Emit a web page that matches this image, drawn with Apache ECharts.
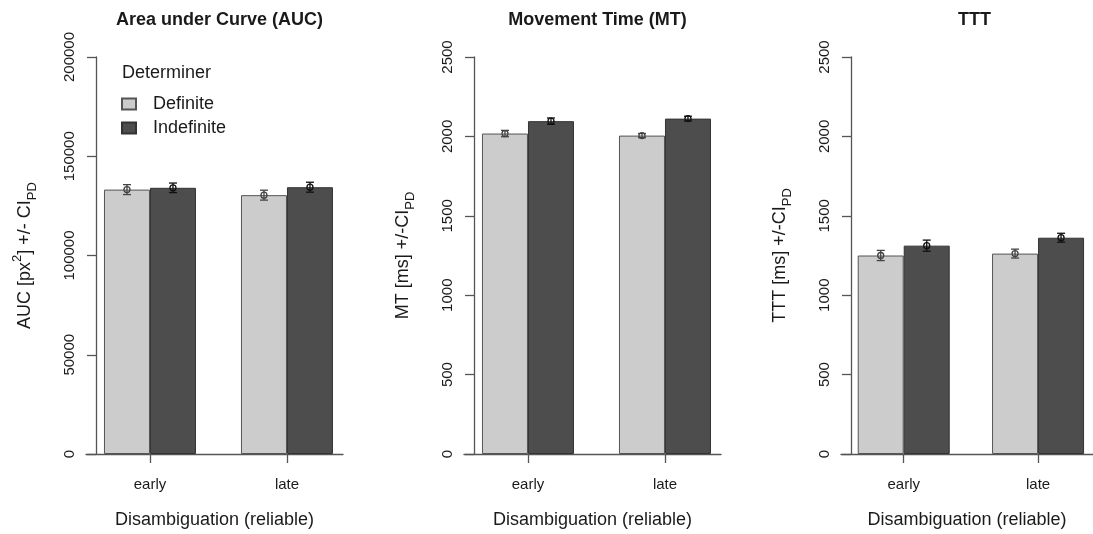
<!DOCTYPE html>
<html><head><meta charset="utf-8">
<script src="https://cdn.jsdelivr.net/npm/echarts@6/dist/echarts.min.js"></script>
<style>html,body{margin:0;padding:0;background:#fff}#c{width:1093px;height:534px}</style>
</head><body><div id="c"></div>
<script>
// ---- data ----
const categories = ['early', 'late'];
const groups = ['Definite', 'Indefinite'];
const legendTitle = 'Determiner';
const panelTitles = ['Area under Curve (AUC)', 'Movement Time (MT)', 'TTT'];
const xTitle = 'Disambiguation (reliable)';

const aucDefinite = [133200, 130400];
const aucIndefinite = [134100, 134400];
const aucDefiniteCI = [2500, 2500];
const aucIndefiniteCI = [2400, 2500];

const mtDefinite = [2018, 2005];
const mtIndefinite = [2096, 2112];
const mtDefiniteCI = [20, 13];
const mtIndefiniteCI = [20, 15];

const tttDefinite = [1250, 1262];
const tttIndefinite = [1312, 1362];
const tttDefiniteCI = [32, 28];
const tttIndefiniteCI = [35, 28];

const aucTicks = { min: 0, max: 200000, interval: 50000 };
const msTicks = { min: 0, max: 2500, interval: 500 };

// ---- styling ----
const FONT = 'Liberation Sans, Arial, sans-serif';
const BAR_W = 46;
const COL_DEF = '#cccccc', COL_IND = '#4d4d4d';
const LINE = '#555555';
const TXT = '#1a1a1a';
const gridLefts = [86, 464, 841];
const GRID_W = 257;

const positions = categories.map((c, i) => i + 1);

const panels = [
  { title: panelTitles[0], def: aucDefinite, ind: aucIndefinite, defCI: aucDefiniteCI, indCI: aucIndefiniteCI, ticks: aucTicks,
    yName: '{m|AUC [px}{sup|2}{m|] +/- CI}{sub|PD}' },
  { title: panelTitles[1], def: mtDefinite, ind: mtIndefinite, defCI: mtDefiniteCI, indCI: mtIndefiniteCI, ticks: msTicks,
    yName: '{m|MT [ms] +/-CI}{sub|PD}' },
  { title: panelTitles[2], def: tttDefinite, ind: tttIndefinite, defCI: tttDefiniteCI, indCI: tttIndefiniteCI, ticks: msTicks,
    yName: '{m|TTT [ms] +/-CI}{sub|PD}' }
];

const grid = [], xAxis = [], yAxis = [], series = [], title = [];

function errRender(offset, color) {
  return function (params, api) {
    const x = api.value(0), m = api.value(1), ci = api.value(2);
    const c = api.coord([x, m]);
    const lo = api.coord([x, m - ci]);
    const hi = api.coord([x, m + ci]);
    const cx = c[0] + offset;
    const st = { stroke: color, lineWidth: 1.3, fill: null };
    return { type: 'group', children: [
      { type: 'line', shape: { x1: cx, y1: lo[1], x2: cx, y2: hi[1] }, style: st },
      { type: 'line', shape: { x1: cx - 4, y1: lo[1], x2: cx + 4, y2: lo[1] }, style: st },
      { type: 'line', shape: { x1: cx - 4, y1: hi[1], x2: cx + 4, y2: hi[1] }, style: st },
      { type: 'circle', shape: { cx: cx, cy: c[1], r: 3 }, style: st }
    ]};
  };
}

panels.forEach((p, i) => {
  grid.push({ left: gridLefts[i], width: GRID_W, top: 57, bottom: 79 });
  title.push({ text: p.title, left: gridLefts[i] + 10 + (GRID_W - 10) / 2, top: 11, textAlign: 'center', padding: 0,
    textStyle: { fontFamily: FONT, fontSize: 18, fontWeight: 'bold', color: TXT } });
  xAxis.push({
    type: 'value', gridIndex: i, min: 0.533, max: 2.409,
    name: xTitle, nameLocation: 'middle', nameGap: 57,
    nameTextStyle: { fontFamily: FONT, fontSize: 18, color: TXT },
    axisLine: { show: true, onZero: false, lineStyle: { color: LINE, width: 1.3 } },
    axisTick: { show: true, length: 9, customValues: positions, lineStyle: { color: LINE, width: 1.3 } },
    axisLabel: { customValues: positions, formatter: v => categories[Math.round(v) - 1], margin: 23,
      fontFamily: FONT, fontSize: 15, color: TXT },
    splitLine: { show: false }
  });
  yAxis.push({
    type: 'value', gridIndex: i, min: p.ticks.min, max: p.ticks.max, interval: p.ticks.interval,
    offset: -10,
    name: p.yName, nameLocation: 'middle', nameGap: 57, nameRotate: 90,
    nameTextStyle: { fontFamily: FONT, fontSize: 18, color: TXT,
      rich: {
        m: { fontFamily: FONT, fontSize: 18, lineHeight: 28, color: TXT },
        sup: { fontFamily: FONT, fontSize: 13, verticalAlign: 'top', color: TXT },
        sub: { fontFamily: FONT, fontSize: 13, verticalAlign: 'bottom', color: TXT }
      } },
    axisLine: { show: true, lineStyle: { color: LINE, width: 1.3 } },
    axisTick: { show: true, length: 9, lineStyle: { color: LINE, width: 1.3 } },
    axisLabel: { rotate: 90, margin: 19, fontFamily: FONT, fontSize: 15, color: TXT, formatter: v => String(v) },
    splitLine: { show: false }
  });
  series.push({
    type: 'bar', name: groups[0], xAxisIndex: i, yAxisIndex: i, barWidth: BAR_W, barGap: '0%',
    itemStyle: { color: COL_DEF, borderColor: '#555', borderWidth: 1 },
    data: p.def.map((v, k) => [positions[k], v]), silent: true
  });
  series.push({
    type: 'bar', name: groups[1], xAxisIndex: i, yAxisIndex: i, barWidth: BAR_W, barGap: '0%',
    itemStyle: { color: COL_IND, borderColor: '#333', borderWidth: 1 },
    data: p.ind.map((v, k) => [positions[k], v]), silent: true
  });
  series.push({
    type: 'custom', xAxisIndex: i, yAxisIndex: i, z: 10, clip: false,
    renderItem: errRender(-BAR_W / 2, '#444'),
    encode: { x: 0, y: 1 },
    data: p.def.map((v, k) => [positions[k], v, p.defCI[k]])
  });
  series.push({
    type: 'custom', xAxisIndex: i, yAxisIndex: i, z: 10, clip: false,
    renderItem: errRender(BAR_W / 2, '#111'),
    encode: { x: 0, y: 1 },
    data: p.ind.map((v, k) => [positions[k], v, p.indCI[k]])
  });
});

title.push({ text: legendTitle, left: 122, top: 64, padding: 0,
  textStyle: { fontFamily: FONT, fontSize: 18, fontWeight: 'normal', color: TXT } });

const option = {
  backgroundColor: '#fff',
  animation: false,
  title: title,
  legend: {
    data: groups, orient: 'vertical', left: 121, top: 94, padding: 0,
    itemWidth: 14, itemHeight: 11, itemGap: 4, icon: 'rect',
    textStyle: { fontFamily: FONT, fontSize: 18, color: TXT, lineHeight: 20, padding: [0, 0, 0, 12] },
    selectedMode: false
  },
  grid: grid, xAxis: xAxis, yAxis: yAxis, series: series
};

const chart = echarts.init(document.getElementById('c'), null, { renderer: 'canvas' });
chart.setOption(option);
</script></body></html>
